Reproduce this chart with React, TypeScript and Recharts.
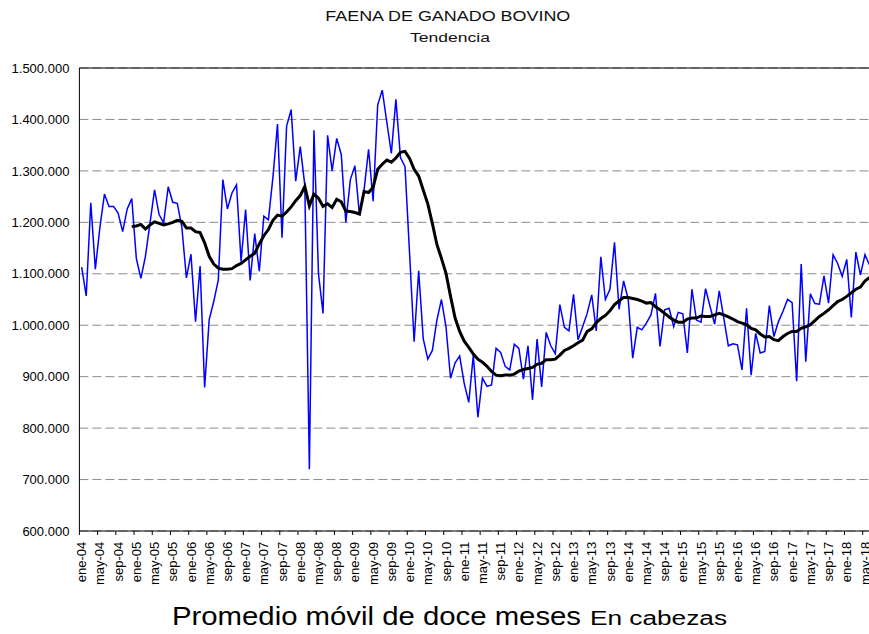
import React from 'react';
import { LineChart, Line, XAxis, YAxis, CartesianGrid, ReferenceLine } from 'recharts';

const monthNames = ['ene', 'feb', 'mar', 'abr', 'may', 'jun', 'jul', 'ago', 'sep', 'oct', 'nov', 'dic'];
const years = ['04', '05', '06', '07', '08', '09', '10', '11', '12', '13', '14', '15', '16', '17', '18'];
const months: string[] = years.flatMap((y) => monthNames.map((m) => `${m}-${y}`)).slice(0, 174);

// Faena mensual (cabezas)
const faena: number[] = [
  1113000, 1057000, 1238000, 1109000, 1190000, 1255000, 1231000, 1231000, 1218000, 1182000, 1226000, 1246000,
  1130000, 1091000, 1134000, 1198000, 1263000, 1215000, 1199000, 1269000, 1239000, 1237000, 1190000, 1092000,
  1138000, 1007000, 1115000, 879000, 1011000, 1046000, 1088000, 1283000, 1226000, 1257000, 1273000, 1124000,
  1225000, 1087000, 1178000, 1105000, 1212000, 1205000, 1288000, 1391000, 1170000, 1387000, 1419000, 1280000,
  1347000, 1272000, 720000, 1379000, 1100000, 1023000, 1369000, 1300000, 1363000, 1332000, 1200000, 1283000,
  1310000, 1214000, 1262000, 1342000, 1241000, 1428000, 1457000, 1395000, 1334000, 1439000, 1326000, 1308000,
  1140000, 968000, 1106000, 974000, 934000, 951000, 1010000, 1050000, 997000, 897000, 927000, 940000,
  887000, 850000, 942000, 821000, 897000, 881000, 884000, 955000, 947000, 920000, 913000, 963000,
  955000, 895000, 960000, 855000, 973000, 880000, 986000, 960000, 945000, 1040000, 996000, 989000,
  1060000, 972000, 997000, 1023000, 1059000, 989000, 1133000, 1050000, 1070000, 1161000, 1031000, 1086000,
  1051000, 936000, 996000, 991000, 1004000, 1020000, 1062000, 959000, 1030000, 1033000, 997000, 1025000,
  1022000, 946000, 1070000, 1010000, 1006000, 1071000, 1036000, 1002000, 1067000, 1014000, 960000, 964000,
  962000, 913000, 1033000, 903000, 984000, 946000, 949000, 1038000, 978000, 1007000, 1027000, 1050000,
  1044000, 891000, 1119000, 929000, 1061000, 1042000, 1041000, 1096000, 1043000, 1137000, 1120000, 1095000,
  1128000, 1015000, 1142000, 1098000, 1137000, 1117000,
];

// Promedio móvil de doce meses
const promedio: (number | null)[] = [
  null, null, null, null, null, null, null, null, null, null, null, 1192000,
  1193000, 1196000, 1187000, 1195000, 1201000, 1198000, 1195000, 1197000, 1200000, 1204000, 1202000, 1189000,
  1189000, 1182000, 1180000, 1160000, 1134000, 1119000, 1111000, 1109000, 1109000, 1110000, 1116000, 1120000,
  1127000, 1134000, 1140000, 1158000, 1174000, 1186000, 1204000, 1214000, 1212000, 1220000, 1230000, 1242000,
  1252000, 1270000, 1232000, 1255000, 1247000, 1231000, 1236000, 1229000, 1245000, 1240000, 1222000, 1221000,
  1219000, 1216000, 1260000, 1258000, 1268000, 1303000, 1313000, 1321000, 1317000, 1325000, 1336000, 1338000,
  1324000, 1303000, 1290000, 1263000, 1236000, 1198000, 1157000, 1130000, 1101000, 1056000, 1014000, 988000,
  969000, 957000, 944000, 934000, 928000, 920000, 910000, 903000, 902000, 903000, 903000, 905000,
  911000, 914000, 916000, 918000, 924000, 926000, 933000, 933000, 934000, 942000, 951000, 955000,
  960000, 966000, 971000, 988000, 993000, 1005000, 1013000, 1019000, 1028000, 1040000, 1047000, 1054000,
  1054000, 1052000, 1050000, 1047000, 1043000, 1044000, 1036000, 1030000, 1023000, 1016000, 1010000, 1006000,
  1006000, 1012000, 1014000, 1014000, 1018000, 1017000, 1017000, 1020000, 1023000, 1020000, 1016000, 1012000,
  1007000, 1004000, 1001000, 994000, 991000, 983000, 977000, 978000, 972000, 970000, 978000, 984000,
  988000, 988000, 994000, 997000, 1001000, 1009000, 1017000, 1023000, 1030000, 1038000, 1046000, 1050000,
  1056000, 1063000, 1070000, 1074000, 1086000, 1093000,
];

const yTicks = [600000, 700000, 800000, 900000, 1000000, 1100000, 1200000, 1300000, 1400000, 1500000];

const data = months.map((mes, i) => ({ mes, faena: faena[i], promedio: promedio[i] }));

const FONT = '"Liberation Sans", Arial, sans-serif';
const CHART_W = 880;
const CHART_H = 626;
const MARGIN = { top: 60, right: 16.2, bottom: 53, left: 0 };
const Y_W = 71.4;
const PLOT_W = CHART_W - MARGIN.right - MARGIN.left - Y_W;
const HALF = PLOT_W / (2 * months.length);

const fmt = (v: number) => String(v).replace(/\B(?=(\d{3})+(?!\d))/g, '.');

const XTick = (props: any) => {
  const { x, y, payload } = props;
  return (
    <g>
      <line x1={x - HALF} x2={x - HALF} y1={y} y2={y + 4} stroke="#000" strokeWidth={1} />
      <text
        transform={`translate(${x},${y + 10.7}) rotate(-90)`}
        textAnchor="end"
        dy="0.35em"
        fontSize={13}
        fontFamily={FONT}
        fill="#000"
      >
        {payload.value}
      </text>
    </g>
  );
};

export default function App() {
  return (
    <div style={{ position: 'fixed', left: 0, top: 0, width: 869, height: 634, overflow: 'hidden', background: '#fff', fontFamily: FONT }}>
      <style>{'html,body{margin:0;padding:0;overflow:hidden;}'}</style>
      <div style={{ position: 'absolute', left: 8, top: 8, width: CHART_W, height: CHART_H }}>
        <LineChart width={CHART_W} height={CHART_H} data={data} margin={MARGIN}>
          <CartesianGrid vertical={false} stroke="#8c8c8c" strokeDasharray="9 4" />
          <XAxis
            dataKey="mes"
            type="category"
            scale="point"
            padding={{ left: HALF, right: HALF }}
            interval={3}
            height={50}
            tickSize={0}
            tickMargin={0}
            tickLine={false}
            axisLine={{ stroke: '#000', strokeWidth: 1 }}
            tick={<XTick />}
          />
          <YAxis
            domain={[600000, 1500000]}
            ticks={yTicks}
            interval={0}
            width={Y_W}
            tickFormatter={fmt}
            tickSize={0}
            tickMargin={10}
            tickLine={false}
            axisLine={{ stroke: '#000', strokeWidth: 1 }}
            tick={{ fontSize: 13, fill: '#000', fontFamily: FONT }}
          />
          <ReferenceLine y={1500000} stroke="#000" strokeWidth={1} />
          <Line
            type="linear"
            dataKey="faena"
            stroke="#0000ff"
            strokeWidth={1.5}
            dot={false}
            isAnimationActive={false}
          />
          <Line
            type="linear"
            dataKey="promedio"
            stroke="#000"
            strokeWidth={3}
            dot={false}
            connectNulls={false}
            isAnimationActive={false}
          />
        </LineChart>
        <svg
          width={CHART_W}
          height={CHART_H}
          style={{ position: 'absolute', left: 0, top: 0, pointerEvents: 'none' }}
        >
          <text x={439.8} y={13} textAnchor="middle" fontSize={14} fontFamily={FONT} fill="#111" textLength={245} lengthAdjust="spacingAndGlyphs">
            FAENA DE GANADO BOVINO
          </text>
          <text x={442} y={33.7} textAnchor="middle" fontSize={12} fontFamily={FONT} fill="#111" textLength={80} lengthAdjust="spacingAndGlyphs">
            Tendencia
          </text>
          <text x={164} y={617} fontSize={26} fontFamily={FONT} fill="#000" textLength={409} lengthAdjust="spacingAndGlyphs">
            Promedio móvil de doce meses
          </text>
          <text x={582} y={617} fontSize={20} fontFamily={FONT} fill="#000" textLength={137} lengthAdjust="spacingAndGlyphs">
            En cabezas
          </text>
        </svg>
      </div>
    </div>
  );
}
